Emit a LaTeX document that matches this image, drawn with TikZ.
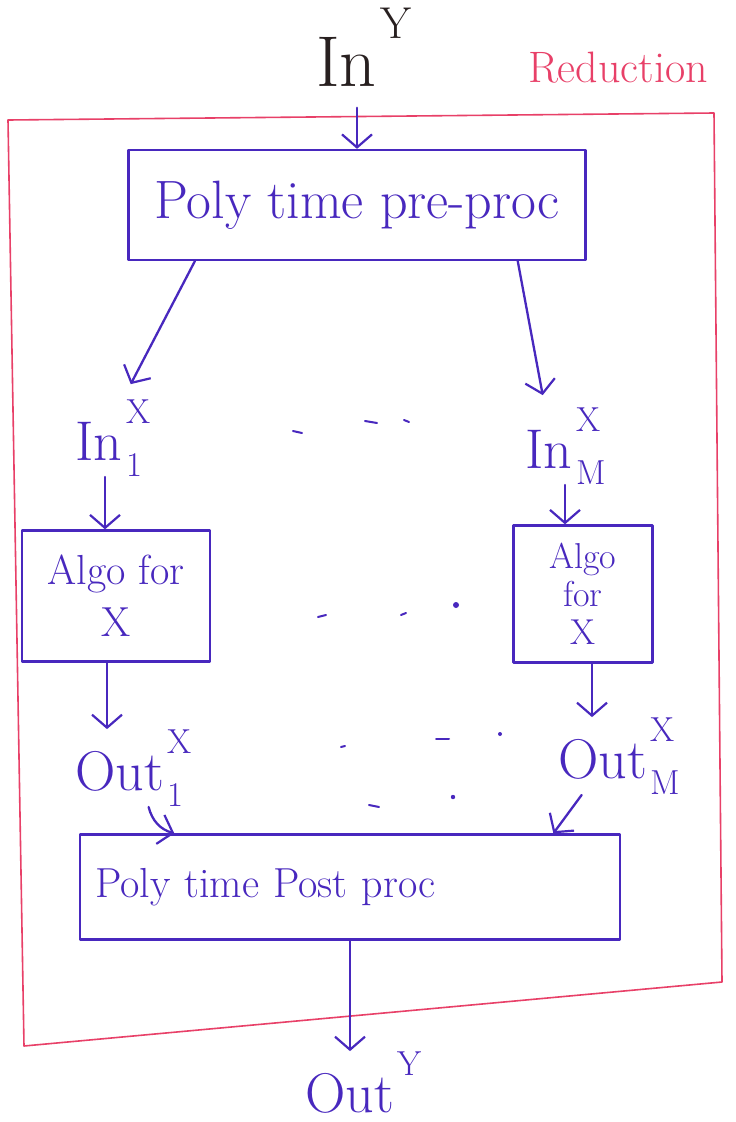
\documentclass[tikz,border=0pt]{standalone}
\usetikzlibrary{arrows.meta,calc}
\definecolor{ink}{RGB}{72,40,190}
\definecolor{redink}{RGB}{232,64,104}
\definecolor{pencil}{RGB}{40,32,32}
% base text with a raised upper index and a lowered lower index
\newcommand\supsub[3]{#1\kern4pt\rlap{\raisebox{-0.3em}{\scalebox{0.62}{#3}}}\raisebox{0.66em}{\scalebox{0.62}{#2}}}
\begin{document}
\begin{tikzpicture}[x=1pt,y=-1pt,
  every node/.style={inner sep=0pt},
  pen/.style={draw=ink, line width=2.3pt, line cap=round, line join=round},
  arr/.style={pen, -{Straight Barb[length=13pt,width=30pt,line width=2.2pt]}},
  box/.style={pen, rectangle, text=ink, align=center},
  lbl/.style={text=ink, anchor=base west, font=\fontsize{56}{60}\selectfont},
  dot/.style={ink, line width=2pt, line cap=round},
]
\useasboundingbox (0,0) rectangle (736,1122);
\fill[white] (0,0) rectangle (736,1122);

% outer frame of the reduction
\draw[redink, line width=1.6pt, line join=round]
  (8,120) -- (714,113) -- (722,982) -- (24,1046) -- cycle;
\node[text=redink, font=\fontsize{44}{48}\selectfont] (red) at (618,68) {Reduction};

% inputs and outputs
\node[text=pencil, anchor=base west, font=\fontsize{72}{76}\selectfont] (inY) at (316,86) {\supsub{In}{Y}{}};
\node[lbl] (in1) at (75,460) {\supsub{In}{X}{1}};
\node[lbl] (inM) at (525,468) {\supsub{In}{X}{M}};
\node[lbl] (out1) at (75,790) {\supsub{Out}{X}{1}};
\node[lbl] (outM) at (558,778) {\supsub{Out}{X}{M}};
\node[lbl] (outY) at (305,1112) {\supsub{Out}{Y}{}};

% processing boxes
\node[box, minimum width=457pt, minimum height=110pt,
      font=\fontsize{54}{58}\selectfont] (pre) at (357,205) {Poly time pre-proc};
\node[box, minimum width=188pt, minimum height=131pt,
      font=\fontsize{42}{52}\selectfont] (algo1) at (116,596) {Algo for\\X};
\node[box, minimum width=139pt, minimum height=137pt,
      font=\fontsize{36}{38}\selectfont] (algoM) at (583,594) {Algo\\for\\X};
\node[box, minimum width=540pt, minimum height=105pt, text width=510pt,
      inner xsep=15pt, align=left, font=\fontsize{42}{46}\selectfont] (post) at (350,887) {Poly time Post proc};

% connectors
\draw[arr] (inY.south -| pre.north) -- (pre.north);
\draw[arr] ($(pre.south west)!0.147!(pre.south east)$) -- ($(in1.north)+(18,-15)$);
\draw[arr] ($(pre.south west)!0.85!(pre.south east)$) -- ($(inM.north)+(-20,-12)$);
\draw[arr] ($(in1.south -| algo1.north)+(-11,0)$) -- ($(algo1.north)+(-11,0)$);
\draw[arr] ($(inM.south -| algoM.north)+(-18,0)$) -- ($(algoM.north)+(-18,0)$);
\draw[arr] ($(algo1.south)+(-9,0)$) -- ($(algo1.south |- out1.north)+(-9,0)$);
\draw[arr] ($(algoM.south)+(9,0)$) -- ($(algoM.south |- outM.north)+(9,0)$);
\draw[arr] ($(out1.south)+(15,0)$) to[bend right=30] ($(post.north west)!0.176!(post.north east)$);
\draw[arr] ($(outM.south)+(-35,0)$) -- ($(post.north west)!0.875!(post.north east)$);
\draw[arr] (post.south) -- (post.south |- outY.north);

% ellipsis marks between the parallel branches
\draw[dot] (293,431) -- (302,433);
\draw[dot] (365,421) -- (377,423);
\draw[dot] (404,420) -- (409,422);
\draw[dot] (318,617) -- (326,615);
\draw[dot] (401,615) -- (406,613);
\fill[ink] (456,605) circle (3pt);
\draw[dot] (341,747) -- (345,746);
\draw[dot] (436,739) -- (449,739);
\fill[ink] (500,734) circle (2pt);
\draw[dot] (369,805) -- (379,807);
\fill[ink] (453,797) circle (2.2pt);
\end{tikzpicture}
\end{document}
